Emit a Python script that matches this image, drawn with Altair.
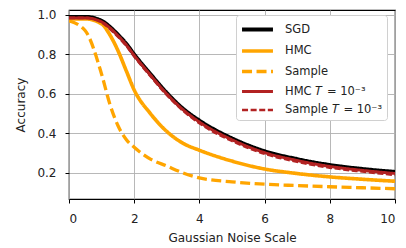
import altair as alt
import pandas as pd

x_vals = [0, 0.5, 1, 1.25, 1.5, 1.75, 2, 2.5, 3, 3.5, 4, 5, 6, 7, 8, 9, 10]
sgd      = [0.99, 0.99, 0.97, 0.94, 0.90, 0.855, 0.80, 0.70, 0.605, 0.525, 0.465, 0.375, 0.31, 0.27, 0.24, 0.22, 0.205]
hmc      = [0.98, 0.98, 0.955, 0.90, 0.82, 0.72, 0.62, 0.50, 0.41, 0.35, 0.315, 0.26, 0.22, 0.197, 0.18, 0.168, 0.158]
sample   = [0.97, 0.92, 0.70, 0.55, 0.44, 0.37, 0.33, 0.27, 0.235, 0.20, 0.175, 0.155, 0.143, 0.136, 0.13, 0.125, 0.12]
hmc_t    = [0.985, 0.985, 0.965, 0.935, 0.895, 0.85, 0.795, 0.695, 0.60, 0.52, 0.458, 0.368, 0.303, 0.263, 0.233, 0.213, 0.197]
sample_t = [0.985, 0.985, 0.962, 0.93, 0.89, 0.845, 0.79, 0.69, 0.595, 0.515, 0.452, 0.362, 0.297, 0.257, 0.227, 0.207, 0.19]

series = ["SGD", "HMC", "Sample", "HMC 𝑇 = 10⁻³", "Sample 𝑇 = 10⁻³"]
colors = ["#000000", "#FFA500", "#FFA500", "#B22222", "#B22222"]
dashes = [[1, 0], [1, 0], [10, 4.5], [1, 0], [6, 2.6]]
widths = [4, 2.6, 2.6, 1.6, 1.6]

rows = []
for name, ys in zip(series, [sgd, hmc, sample, hmc_t, sample_t]):
    for xv, yv in zip(x_vals, ys):
        rows.append({"x": xv, "y": yv, "series": name})
df = pd.DataFrame(rows)

font = "DejaVu Sans"

chart = alt.Chart(df).mark_line(interpolate="monotone", clip=True).encode(
    x=alt.X("x:Q", title="Gaussian Noise Scale",
            scale=alt.Scale(domain=[0, 10], nice=False),
            axis=alt.Axis(values=[0, 2, 4, 6, 8, 10], format="d",
                          labelPadding=10, titlePadding=8)),
    y=alt.Y("y:Q", title="Accuracy",
            scale=alt.Scale(domain=[0.068, 1.025], nice=False, zero=False),
            axis=alt.Axis(values=[0.2, 0.4, 0.6, 0.8, 1.0], format=".1f",
                          labelPadding=9, titlePadding=9)),
    color=alt.Color("series:N", scale=alt.Scale(domain=series, range=colors),
                    sort=series, title=None),
    strokeDash=alt.StrokeDash("series:N", scale=alt.Scale(domain=series, range=dashes),
                              sort=series, title=None),
    strokeWidth=alt.StrokeWidth("series:N", scale=alt.Scale(domain=series, range=widths),
                                sort=series, title=None),
    order=alt.Order("series:N"),
).properties(
    width=326, height=189,
    padding={"left": 6, "top": 0, "right": 0, "bottom": 0},
).configure_view(
    stroke="#000000", strokeWidth=1.2
).configure_axis(
    labelFont=font, titleFont=font, labelFontSize=12, titleFontSize=12,
    titleFontWeight="normal", labelColor="#222", titleColor="#222",
    gridColor="#b0b0b0", gridWidth=0.9, domain=False,
    tickColor="#000", tickSize=4,
).configure_legend(
    orient="none", legendX=167, legendY=5,
    labelFont=font, labelFontSize=11.5, labelColor="#222",
    fillColor="white", strokeColor="#d0d0d0", cornerRadius=3, padding=4,
    symbolType="M-1.82,0H1.82", symbolSize=289, rowPadding=2.5,
    symbolOffset=7, labelOffset=17,
)

chart.save("out.html", embed_options={"renderer": "svg", "actions": False})
